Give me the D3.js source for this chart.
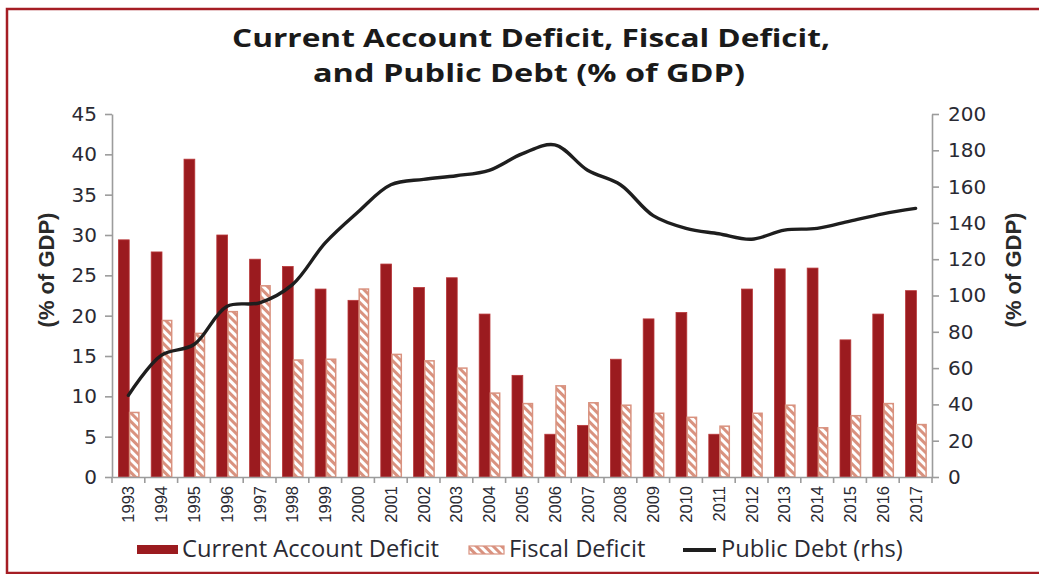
<!DOCTYPE html>
<html>
<head>
<meta charset="utf-8">
<script src="https://cdn.jsdelivr.net/npm/d3@7"></script>
<style>
  html, body { margin: 0; padding: 0; background: #fff; }
  svg { display: block; }
</style>
</head>
<body>
<svg id="chart" width="1039" height="574"></svg>
<script>
// Series, % of GDP
const years = ["1993","1994","1995","1996","1997","1998","1999","2000","2001","2002","2003","2004","2005",
               "2006","2007","2008","2009","2010","2011","2012","2013","2014","2015","2016","2017"];
const currentAccountDeficit = [29.4, 27.9, 39.4, 30.0, 27.0, 26.1, 23.3, 21.9, 26.4, 23.5, 24.7, 20.2, 12.6,
                               5.3, 6.4, 14.6, 19.6, 20.4, 5.3, 23.3, 25.8, 25.9, 17.0, 20.2, 23.1];
const fiscalDeficit = [8.0, 19.4, 17.8, 20.5, 23.7, 14.5, 14.6, 23.3, 15.2, 14.4, 13.5, 10.4, 9.1,
                       11.3, 9.2, 8.9, 7.9, 7.4, 6.3, 7.9, 8.9, 6.1, 7.6, 9.1, 6.5];
const publicDebt = [45, 67, 73, 94, 96, 106, 129, 146, 161, 164, 166, 169, 178,
                    183, 169, 161, 144, 137, 134, 131, 136, 137, 141, 145, 148];

const leftTicks = [0, 5, 10, 15, 20, 25, 30, 35, 40, 45];
const rightTicks = [0, 20, 40, 60, 80, 100, 120, 140, 160, 180, 200];
const titleLines = ["Current Account Deficit, Fiscal Deficit,", "and Public Debt (% of GDP)"];
const axisTitle = "(% of GDP)";
const legendLabels = ["Current Account Deficit", "Fiscal Deficit", "Public Debt (rhs)"];

const COL_CAD = "#9b1b1f";
const COL_CAD_EDGE = "#b8383a";
const COL_FISCAL = "#d9927f";
const COL_LINE = "#1e1e1e";
const COL_AXIS = "#9c9c9c";
const COL_TEXT = "#2a2a33";
const COL_FRAME = "#a51d24";

const svg = d3.select("#chart");
const plot = { left: 112, right: 932, top: 114, bottom: 477 };

const x = d3.scaleBand().domain(years).range([plot.left, plot.right]).paddingInner(0).paddingOuter(0);
const yL = d3.scaleLinear().domain([0, 45]).range([plot.bottom, plot.top]);
const yR = d3.scaleLinear().domain([0, 200]).range([plot.bottom, plot.top]);
const cx = d => x(d) + x.bandwidth() / 2;

// hatch fill for the fiscal bars
const defs = svg.append("defs");
const pat = defs.append("pattern")
  .attr("id", "hatch").attr("patternUnits", "userSpaceOnUse")
  .attr("width", 6).attr("height", 6)
  .attr("patternTransform", "rotate(-45)");
pat.append("rect").attr("width", 6).attr("height", 6).attr("fill", COL_FISCAL);
pat.append("rect").attr("x", 0).attr("width", 3).attr("height", 6).attr("fill", "#ffffff");

// outer frame
svg.append("rect")
  .attr("x", 7).attr("y", 9).attr("width", 1060).attr("height", 564)
  .attr("fill", "none").attr("stroke", COL_FRAME).attr("stroke-width", 2.5);

// fit a text element to a given width by adjusting its font size
function fitWidth(sel, target) {
  const node = sel.node();
  const base = parseFloat(sel.style("font-size"));
  const w = node.getComputedTextLength();
  if (w > 0) sel.style("font-size", (base * target / w).toFixed(2) + "px");
}

// title: two centred lines, glyphs stretched to the set widths
const titleStyle = s => s.attr("text-anchor", "middle")
  .style("font-family", "'Open Sans', sans-serif").style("font-weight", 700)
  .style("font-size", "25.5px").style("fill", "#1a1a1a")
  .attr("lengthAdjust", "spacingAndGlyphs");
svg.append("text").attr("x", 531).attr("y", 47).call(titleStyle)
  .attr("textLength", 598).text(titleLines[0]);
svg.append("text").attr("x", 529).attr("y", 82).call(titleStyle)
  .attr("textLength", 432).text(titleLines[1]);

// bars
const barW = 10.8;
svg.append("g").selectAll("rect").data(years).join("rect")
  .attr("x", (d) => cx(d) - barW + 0.8)
  .attr("y", (d, i) => yL(currentAccountDeficit[i]))
  .attr("width", barW)
  .attr("height", (d, i) => yL(0) - yL(currentAccountDeficit[i]))
  .attr("fill", COL_CAD).attr("stroke", COL_CAD_EDGE).attr("stroke-width", 0.8);

svg.append("g").selectAll("rect").data(years).join("rect")
  .attr("x", (d) => cx(d) + 1.2)
  .attr("y", (d, i) => yL(fiscalDeficit[i]))
  .attr("width", barW - 1.5)
  .attr("height", (d, i) => yL(0) - yL(fiscalDeficit[i]))
  .attr("fill", "url(#hatch)").attr("stroke", COL_FISCAL).attr("stroke-width", 1.5);

// public debt line on the right axis
const line = d3.line()
  .x((d, i) => cx(years[i]))
  .y(d => yR(d))
  .curve(d3.curveCatmullRom.alpha(0.5));
svg.append("path").datum(publicDebt)
  .attr("d", line).attr("fill", "none")
  .attr("stroke", COL_LINE).attr("stroke-width", 3.4)
  .attr("stroke-linecap", "round").attr("stroke-linejoin", "round");

// axes
function styleAxis(g) {
  g.select(".domain").attr("stroke", COL_AXIS).attr("stroke-width", 1.6);
  g.selectAll(".tick line").attr("stroke", COL_AXIS).attr("stroke-width", 1.6);
  g.selectAll("text").style("fill", COL_TEXT);
}

const gL = svg.append("g").attr("transform", `translate(${plot.left},0)`)
  .call(d3.axisLeft(yL).tickValues(leftTicks).tickSize(7).tickPadding(8).tickSizeOuter(0));
gL.selectAll("text").style("font-family", "'DejaVu Sans', sans-serif").style("font-size", "20px");
styleAxis(gL);

const gR = svg.append("g").attr("transform", `translate(${plot.right},0)`)
  .call(d3.axisRight(yR).tickValues(rightTicks).tickSize(7).tickPadding(9).tickSizeOuter(0));
gR.selectAll("text").style("font-family", "'DejaVu Sans', sans-serif").style("font-size", "20px");
styleAxis(gR);

// category axis: labels at band centres, ticks at band edges
const gX = svg.append("g").attr("transform", `translate(0,${plot.bottom})`)
  .call(d3.axisBottom(x).tickSize(0).tickSizeOuter(0));
gX.selectAll(".tick text")
  .attr("transform", "rotate(-90)")
  .attr("x", -9).attr("y", 0).attr("dy", "0.36em")
  .style("text-anchor", "end")
  .style("font-family", "'Liberation Sans', Arial, sans-serif").style("font-size", "16.5px");
styleAxis(gX);
const edges = years.map(d => x(d)).concat([x(years[years.length - 1]) + x.bandwidth()]);
gX.append("g").selectAll("line").data(edges).join("line")
  .attr("x1", d => d).attr("x2", d => d).attr("y1", 0).attr("y2", 6)
  .attr("stroke", COL_AXIS).attr("stroke-width", 1.6);

// axis titles
const midY = 270;
svg.append("text")
  .attr("transform", `translate(54,${midY}) rotate(-90)`)
  .attr("text-anchor", "middle")
  .style("font-family", "'Liberation Sans', Arial, sans-serif").style("font-weight", 700)
  .style("font-size", "22px").style("fill", "#2a2a2a").text(axisTitle);
svg.append("text")
  .attr("transform", `translate(1021,${midY}) rotate(-90)`)
  .attr("text-anchor", "middle")
  .style("font-family", "'Liberation Sans', Arial, sans-serif").style("font-weight", 700)
  .style("font-size", "22px").style("fill", "#2a2a2a").text(axisTitle);

// legend
const lg = svg.append("g");
const legendFont = "'Open Sans', sans-serif";
lg.append("rect").attr("x", 137).attr("y", 545).attr("width", 41).attr("height", 9).attr("fill", COL_CAD);
const l1 = lg.append("text").attr("x", 182).attr("y", 557)
  .style("font-family", legendFont).style("font-size", "21px").style("fill", COL_TEXT).text(legendLabels[0]);
fitWidth(l1, 257);
lg.append("rect").attr("x", 469).attr("y", 546).attr("width", 35).attr("height", 8)
  .attr("fill", "url(#hatch)").attr("stroke", COL_FISCAL).attr("stroke-width", 1.2);
lg.append("text").attr("x", 509).attr("y", 557)
  .style("font-family", legendFont).style("font-size", l1.style("font-size")).style("fill", COL_TEXT).text(legendLabels[1]);
lg.append("line").attr("x1", 683).attr("x2", 716).attr("y1", 550).attr("y2", 550)
  .attr("stroke", COL_LINE).attr("stroke-width", 4);
lg.append("text").attr("x", 721).attr("y", 557)
  .style("font-family", legendFont).style("font-size", l1.style("font-size")).style("fill", COL_TEXT).text(legendLabels[2]);
</script>
</body>
</html>
